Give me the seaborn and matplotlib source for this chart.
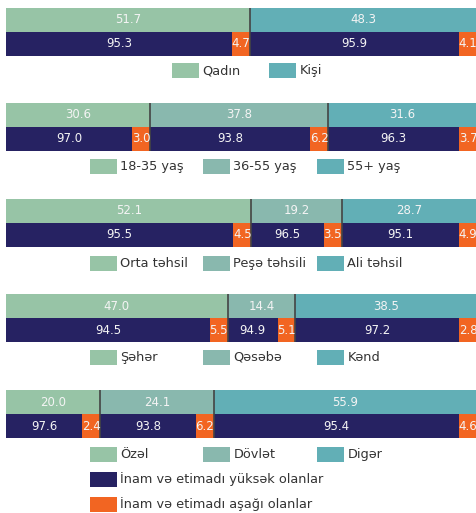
import matplotlib
matplotlib.use("Agg")
import matplotlib.pyplot as plt
import seaborn as sns
from matplotlib.patches import Rectangle

# ---------------- data ----------------
group_labels = [
    ["Qadın", "Kişi"],
    ["18-35 yaş", "36-55 yaş", "55+ yaş"],
    ["Orta təhsil", "Peşə təhsili", "Ali təhsil"],
    ["Şəhər", "Qəsəbə", "Kənd"],
    ["Özəl", "Dövlət", "Digər"],
]
shares = [
    [51.7, 48.3],
    [30.6, 37.8, 31.6],
    [52.1, 19.2, 28.7],
    [47.0, 14.4, 38.5],
    [20.0, 24.1, 55.9],
]
high_trust = [
    [95.3, 95.9],
    [97.0, 93.8, 96.3],
    [95.5, 96.5, 95.1],
    [94.5, 94.9, 97.2],
    [97.6, 93.8, 95.4],
]
low_trust = [
    [4.7, 4.1],
    [3.0, 6.2, 3.7],
    [4.5, 3.5, 4.9],
    [5.5, 5.1, 2.8],
    [2.4, 6.2, 4.6],
]
trust_labels = ["İnam və etimadı yüksək olanlar", "İnam və etimadı aşağı olanlar"]

# ---------------- style ----------------
sns.set_theme(style="white")
plt.rcParams['font.family'] = ['DejaVu Sans']

GREEN = "#97c4a6"
GRAYTEAL = "#89b8ae"
TEAL = "#62afb6"
NAVY = "#262262"
ORANGE = "#f26522"
TXT = "#333333"

W, H, DPI = 477, 513, 100
fig = plt.figure(figsize=(W / DPI, H / DPI), dpi=DPI)
fig.patch.set_facecolor("white")

panel_tops = [7.5, 103, 199, 294, 390]
bar_px = 24
legend_y = [70.5, 166.5, 263.5, 357.5]
legend_x3 = [90, 203, 317]
legend_x2 = [172, 269]
ORANGE_MIN = 3.8  # minimum visual width of low-trust box (axis units)
LABEL_FS = 8.5
LEG_FS = 9.3


def fx(x):
    return x / W


def fy(y):
    return 1 - y / H


def stacked(ax, row, ends, colors):
    for end, c in reversed(list(zip(ends, colors))):
        sns.barplot(x=[end], y=[row], order=["top", "bottom"], orient="h",
                    color=c, width=1.0, saturation=1, linewidth=0, ax=ax)


def legend_item(x, y, color, label):
    fig.add_artist(Rectangle((fx(x), fy(y + 7.5)), 27 / W, 15 / H,
                             transform=fig.transFigure, facecolor=color,
                             edgecolor="none"))
    fig.text(fx(x + 30.5), fy(y), label, ha="left", va="center",
             fontsize=LEG_FS, color=TXT)


for i in range(5):
    sh = shares[i]
    n = len(sh)
    colors = [GREEN, TEAL] if n == 2 else [GREEN, GRAYTEAL, TEAL]
    top = panel_tops[i]
    ax = fig.add_axes([fx(6), fy(top + 2 * bar_px), 471 / W, 2 * bar_px / H])
    total = sum(sh)

    # top bar: group shares
    ends, acc = [], 0
    for s in sh:
        acc += s
        ends.append(acc)
    stacked(ax, "top", ends, colors)

    # bottom bar: within-group trust split
    b_ends, b_cols, b_info = [], [], []
    start = 0
    for s, hv, lv in zip(sh, high_trust[i], low_trust[i]):
        ow = max(s * lv / 100, ORANGE_MIN)
        nav_end = start + s - ow
        b_ends += [nav_end, start + s]
        b_cols += [NAVY, ORANGE]
        b_info.append((start, nav_end, start + s, hv, lv))
        start += s
    stacked(ax, "bottom", b_ends, b_cols)

    ax.set_xlim(0, total)
    ax.set_ylim(1.5, -0.5)
    ax.axis("off")

    start = 0
    for s in sh:
        ax.text(start + s / 2, 0, f"{s:.1f}", ha="center", va="center",
                color="#f4f4f4", fontsize=LABEL_FS)
        start += s
    for (a, b, c, hv, lv) in b_info:
        ax.text((a + b) / 2, 1, f"{hv:.1f}", ha="center", va="center",
                color="#f4f4f4", fontsize=LABEL_FS)
        ax.text((b + c) / 2, 1, f"{lv:.1f}", ha="center", va="center",
                color="#f4f4f4", fontsize=LABEL_FS)

    # separators between groups
    for e in ends[:-1]:
        ax.vlines(e, -0.5, 1.5, color="#444444", linewidth=1.2)

    # legend
    if i < 4:
        xs = legend_x2 if n == 2 else legend_x3
        for x, c, lab in zip(xs, colors, group_labels[i]):
            legend_item(x, legend_y[i], c, lab)
    else:
        for x, c, lab in zip(legend_x3, colors, group_labels[i]):
            legend_item(x, 454.5, c, lab)
        legend_item(90, 479.5, NAVY, trust_labels[0])
        legend_item(90, 504.5, ORANGE, trust_labels[1])

fig.savefig("out.png", dpi=DPI, facecolor="white")
